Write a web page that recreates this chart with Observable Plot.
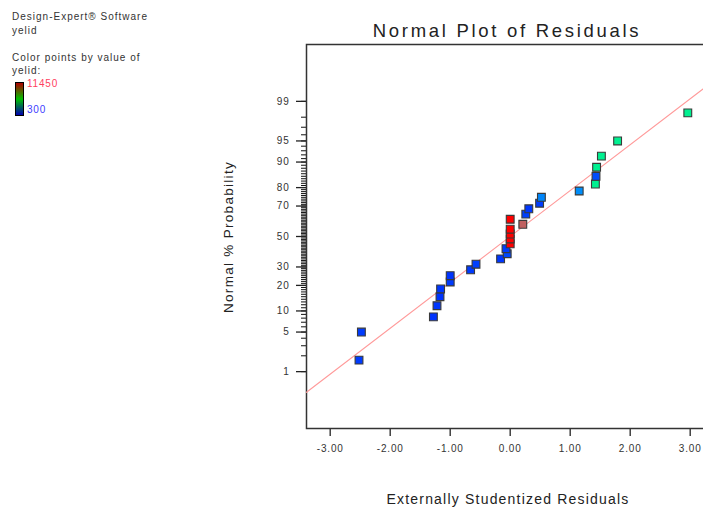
<!DOCTYPE html>
<html>
<head>
<meta charset="utf-8">
<script src="https://cdn.jsdelivr.net/npm/d3@7"></script>
<script src="https://cdn.jsdelivr.net/npm/@observablehq/plot@0.6"></script>
<style>
html,body{margin:0;padding:0;background:#fff;overflow:hidden;width:703px;height:508px}
#wrap{position:relative;width:703px;height:508px;overflow:hidden;font-family:"Liberation Sans",Arial,sans-serif;color:#333}
#chart{position:absolute;left:0;top:0;width:720px;height:508px}
#chart svg{max-width:none !important}
.t{position:absolute;white-space:nowrap;line-height:1}
</style>
</head>
<body>
<div id="wrap">
  <div id="chart"></div>
  <div class="t" id="title" style="font-size:18.5px;letter-spacing:2.7px;color:#222;left:507px;top:21.6px;transform:translateX(-50%)">Normal Plot of Residuals</div>
  <div class="t" id="ylab" style="font-size:13.5px;letter-spacing:1.3px;color:#222;left:229px;top:237px;transform:translate(-50%,-50%) rotate(-90deg)">Normal % Probability</div>
  <div class="t" id="xlab" style="font-size:14px;letter-spacing:1.2px;color:#222;left:508px;top:491.8px;transform:translateX(-50%)">Externally Studentized Residuals</div>
  <div class="t" style="font-size:10px;letter-spacing:1px;left:12px;top:12.2px">Design-Expert® Software</div>
  <div class="t" style="font-size:10px;letter-spacing:1px;left:12px;top:25.5px">yelid</div>
  <div class="t" style="font-size:10px;letter-spacing:1px;left:12px;top:53.2px">Color points by value of</div>
  <div class="t" style="font-size:10px;letter-spacing:1px;left:12px;top:65.5px">yelid:</div>
  <div style="position:absolute;left:15px;top:82px;width:7px;height:32px;border:1px solid #000;background:linear-gradient(#b00000,#00c000 50%,#0000b0)"></div>
  <div class="t" id="legHi" style="font-size:10px;letter-spacing:0.8px;left:27px;top:78.8px;color:#ff4060"></div>
  <div class="t" id="legLo" style="font-size:10px;letter-spacing:0.8px;left:27px;top:104.8px;color:#4040ff"></div>
</div>
<script>
// ---- data ----
const residuals = [-2.52, -2.48, -1.28, -1.22, -1.17, -1.16, -1.00, -1.00, -0.66, -0.57,
                   -0.16, -0.05, -0.07, 0.00, 0.00, 0.00, 0.00, 0.21, 0.00, 0.26,
                    0.31, 0.49, 0.52, 1.15, 1.42, 1.43, 1.44, 1.52, 1.79, 2.96];
const probabilities = [1.67, 5.00, 8.33, 11.67, 15.00, 18.33, 21.67, 25.00, 28.33, 31.67,
                       35.00, 38.33, 41.67, 45.00, 48.33, 51.67, 55.00, 58.33, 61.67, 65.00,
                       68.33, 71.67, 75.00, 78.33, 81.67, 85.00, 88.33, 91.67, 95.00, 98.33];
const yieldValues = [1000, 1000, 900, 950, 900, 950, 1000, 900, 1000, 1050,
                     950, 1150, 1000, 11450, 11450, 11450, 11450, 10000, 11450, 1050,
                     950, 1000, 1900, 2000, 4500, 1200, 4500, 4500, 4500, 4500];
const yieldRange = [300, 11450];
const xTickValues = [-3, -2, -1, 0, 1, 2, 3];
const majorPctTicks = [1, 5, 10, 20, 30, 50, 70, 80, 90, 95, 99];
const minorPctTicks = [1,2,3,4,5,6,7,8,9,10,11,12,13,14,15,16,17,18,19,20,21,22,23,24,25,26,27,28,29,30,31,32,33,34,35,36,37,38,39,40,41,42,43,44,45,46,47,48,49,50,51,52,53,54,55,56,57,58,59,60,61,62,63,64,65,66,67,68,69,70,71,72,73,74,75,76,77,78,79,80,81,82,83,84,85,86,87,88,89,90,91,92,93,94,95,96,97,98,99];
const fitLine = {slope: 0.79, intercept: 0.0, from: -3.395, to: 3.4};

document.getElementById("legHi").textContent = String(yieldRange[1]);
document.getElementById("legLo").textContent = String(yieldRange[0]);

// inverse standard normal CDF (normal probability paper scale)
function probit(p) {
  const a=[-3.969683028665376e+01,2.209460984245205e+02,-2.759285104469687e+02,1.383577518672690e+02,-3.066479806614716e+01,2.506628277459239e+00];
  const b=[-5.447609879822406e+01,1.615858368580409e+02,-1.556989798598866e+02,6.680131188771972e+01,-1.328068155288572e+01];
  const c=[-7.784894002430293e-03,-3.223964580411365e-01,-2.400758277161838e+00,-2.549732539343734e+00,4.374664141464968e+00,2.938163982698783e+00];
  const d=[7.784695709041462e-03,3.224671290700398e-01,2.445134137142996e+00,3.754408661907416e+00];
  const pl = 0.02425, ph = 1 - pl;
  let q, r;
  if (p < pl) { q = Math.sqrt(-2*Math.log(p)); return (((((c[0]*q+c[1])*q+c[2])*q+c[3])*q+c[4])*q+c[5])/((((d[0]*q+d[1])*q+d[2])*q+d[3])*q+1); }
  if (p > ph) { q = Math.sqrt(-2*Math.log(1-p)); return -(((((c[0]*q+c[1])*q+c[2])*q+c[3])*q+c[4])*q+c[5])/((((d[0]*q+d[1])*q+d[2])*q+d[3])*q+1); }
  q = p - 0.5; r = q*q;
  return (((((a[0]*r+a[1])*r+a[2])*r+a[3])*r+a[4])*r+a[5])*q/(((((b[0]*r+b[1])*r+b[2])*r+b[3])*r+b[4])*r+1);
}

const rows = residuals.map((r, i) => ({res: r, pct: probabilities[i], z: probit(probabilities[i]/100), yld: yieldValues[i]}));
const majorZ = majorPctTicks.map(p => probit(p/100));
const labelByZ = new Map(majorZ.map((z, i) => [z, String(majorPctTicks[i])]));
const minorZ = minorPctTicks.map(p => probit(p/100));
const lineRows = [fitLine.from, fitLine.to].map(x => ({x, z: fitLine.intercept + fitLine.slope * x}));

const chart = Plot.plot({
  width: 720,
  height: 508,
  marginLeft: 306,
  marginRight: 6.3,
  marginTop: 44,
  marginBottom: 80,
  style: {fontFamily: "'Liberation Sans', Arial, sans-serif", fontSize: "10px", color: "#333", background: "transparent", letterSpacing: "0.8px", maxWidth: "none"},
  x: {domain: [-3.395, 3.4], label: null},
  y: {domain: [-3.305, 3.305], label: null},
  color: {type: "linear", domain: [300, 4500, 10000, 11450], range: ["#0000ff", "#00f090", "#c06060", "#ff0000"], interpolate: "hsl"},
  marks: [
    Plot.axisY(minorZ, {tickSize: 5, tickFormat: () => "", stroke: "#111", strokeWidth: 1, label: null}),
    Plot.axisY(majorZ, {tickSize: 10, tickPadding: 7, tickFormat: z => labelByZ.get(z), stroke: "#222", strokeWidth: 1.3, fill: "#333", label: null}),
    Plot.axisX(xTickValues, {tickSize: 8, tickPadding: 8, tickFormat: d => d.toFixed(2), stroke: "#333", strokeWidth: 1.4, fill: "#333", label: null}),
    Plot.frame({stroke: "#333", strokeWidth: 1.5}),
    Plot.line(lineRows, {x: "x", y: "z", stroke: "#ff9a9a", strokeWidth: 1.1}),
    Plot.dot(rows, {x: "res", y: "z", symbol: "square", r: 4.4, fill: "yld", stroke: "#3a3a3a", strokeWidth: 1.1})
  ]
});
chart.style.maxWidth = "none";
chart.setAttribute("width", 720);
document.getElementById("chart").appendChild(chart);
</script>
</body>
</html>
